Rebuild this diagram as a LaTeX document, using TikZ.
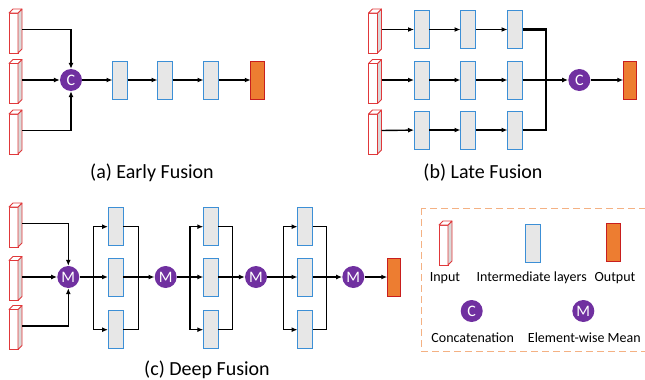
\documentclass[tikz,border=0pt]{standalone}
\usepackage{fontspec}
\setmainfont{Carlito}
\usetikzlibrary{arrows.meta,calc}
\definecolor{inred}{HTML}{E0383A}
\definecolor{sidegray}{HTML}{D9D9D9}
\definecolor{midblue}{HTML}{3C8FD6}
\definecolor{midgray}{HTML}{E7E7E7}
\definecolor{outfill}{HTML}{ED7D31}
\definecolor{outborder}{HTML}{C81E1E}
\definecolor{purp}{HTML}{7030A0}
\definecolor{legdash}{HTML}{F4B183}
\newcommand\inbox[3]{%
  \node[inp] (#1) at (#2,#3) {};
  \draw[inface,fill=sidegray] (#1.north east) -- ++(4,-4) -- ++(0,40) -- (#1.south east) -- cycle;
  \draw[inface,fill=white] (#1.north west) -- ++(4,-4) -- ++(9,0) -- (#1.north east) -- cycle;
}
\begin{document}
\begin{tikzpicture}[x=1pt,y=-1pt,
 inp/.style={draw=inred, fill=white, minimum width=9pt, minimum height=40pt, inner sep=0pt, outer sep=0pt, line width=0.8pt},
 inface/.style={draw=inred, line width=0.8pt, line join=round},
 mid/.style={draw=midblue, fill=midgray, minimum width=15pt, minimum height=38pt, inner sep=0pt, outer sep=0pt, line width=1pt},
 outp/.style={draw=outborder, fill=outfill, minimum width=13.5pt, minimum height=38pt, inner sep=0pt, outer sep=0pt, line width=1pt},
 op/.style={circle, fill=purp, text=white, minimum size=22pt, inner sep=0pt, font=\fontsize{16}{16}\selectfont},
 arr/.style={-{Latex[length=6pt,width=5pt]}, line width=1.4pt},
 ln/.style={line width=1.4pt},
 thk/.style={line width=2.8pt},
 captxt/.style={font=\fontsize{20}{24}\selectfont},
 leg/.style={font=\fontsize{14}{16}\selectfont}]
\useasboundingbox (0,0) rectangle (645,380);
\clip (0,0) rectangle (645,380);

% ---------------- (a) Early Fusion ----------------
\inbox{a1}{13.5}{33}
\inbox{a2}{13.5}{83.5}
\inbox{a3}{13.5}{134}
\node[op] (ca) at (71,80) {C};
\node[mid] (e1) at (120,80) {};
\node[mid] (e2) at (165,80) {};
\node[mid] (e3) at (211,80) {};
\node[outp] (eo) at (257.5,80) {};
\draw[arr] ([xshift=4pt,yshift=3.5pt]a1.east) -| (ca);
\draw[arr] ([xshift=4pt,yshift=3.5pt]a2.east) -- (ca);
\draw[arr] ([xshift=4pt,yshift=3.5pt]a3.east) -| (ca);
\draw[arr] (ca) -- (e1);
\draw[arr] (e1) -- (e2);
\draw[arr] (e2) -- (e3);
\draw[arr] (e3) -- (eo);
\node[captxt] (capa) at (152,173) {(a) Early Fusion};

% ---------------- (b) Late Fusion ----------------
\inbox{b1}{373}{33}
\inbox{b2}{373}{83.5}
\inbox{b3}{373}{134}
\foreach \r/\y in {1/29.5,2/80,3/130}{
  \node[mid] (l\r1) at (421.5,\y) {};
  \node[mid] (l\r2) at (468,\y) {};
  \node[mid] (l\r3) at (515,\y) {};
  \draw[arr] ([xshift=4pt,yshift=3.5pt]b\r.east) -- (l\r1);
  \draw[arr] (l\r1) -- (l\r2);
  \draw[arr] (l\r2) -- (l\r3);
}
\node[op] (lc) at (579.3,80) {C};
\node[outp] (lo) at (630,80) {};
\coordinate (lm) at (546,80);
\draw[thk] (l13.east) -| (lm);
\draw[thk] (l33.east) -| (lm);
\draw[thk] (l23.east) -- (lm);
\draw[arr,line width=2pt] (lm) -- (lc);
\draw[arr] (lc) -- (lo);
\node[captxt] (capb) at (483,173) {(b) Late Fusion};

% ---------------- (c) Deep Fusion ----------------
\inbox{c1}{13.5}{227}
\inbox{c2}{13.5}{280.5}
\inbox{c3}{13.5}{329.5}
\node[op] (m1) at (68.3,277) {M};
\draw[arr] ([xshift=4pt,yshift=3.5pt]c1.east) -| (m1);
\draw[arr] ([xshift=4pt,yshift=3.5pt]c2.east) -- (m1);
\draw[arr] ([xshift=4pt,yshift=3.5pt]c3.east) -| (m1);
\node[op] (m2) at (165.7,277) {M};
\node[op] (m3) at (256,277) {M};
\node[op] (m4) at (353.3,277) {M};
\node[outp] (co) at (394,277) {};
\foreach \k/\x/\sx/\gx/\mi/\mo in {1/115.5/93.3/138.3/m1/m2, 2/210.8/190/232.3/m2/m3, 3/305/283.3/326.7/m3/m4}{
  \node[mid] (d\k1) at (\x,226.7) {};
  \node[mid] (d\k2) at (\x,277) {};
  \node[mid] (d\k3) at (\x,329.7) {};
  \coordinate (s\k) at (\sx,277);
  \coordinate (g\k) at (\gx,277);
  \draw[thk] (\mi) -- (s\k);
  \draw[arr] (s\k) |- (d\k1);
  \draw[arr] (s\k) |- (d\k3);
  \draw[arr] (s\k) -- (d\k2);
  \draw[ln] (d\k1.east) -| (g\k);
  \draw[ln] (d\k3.east) -| (g\k);
  \draw[ln] (d\k2.east) -- (g\k);
  \draw[arr,line width=2.4pt] (g\k) -- (\mo);
}
\draw[arr] (m4) -- (co);
\node[captxt] (capc) at (207,370) {(c) Deep Fusion};

% ---------------- Legend ----------------
\draw[legdash, line width=1.3pt, dash pattern=on 7pt off 4pt] (421.7,208.3) rectangle (660,351.7);
\inbox{li}{443.5}{245}
\node[mid] (lmid) at (532.5,243) {};
\node[outp] (lout) at (613.3,242) {};
\node[leg] (ti) at (445,278) {Input};
\node[leg] (tm) at (531.7,278) {Intermediate layers};
\node[leg] (to) at (615,278) {Output};
\node[op] (lgc) at (471.7,311) {C};
\node[op] (lgm) at (583.3,311) {M};
\node[leg] (tc) at (472.7,338) {Concatenation};
\node[leg] (te) at (584.3,338) {Element-wise Mean};
\end{tikzpicture}
\end{document}
